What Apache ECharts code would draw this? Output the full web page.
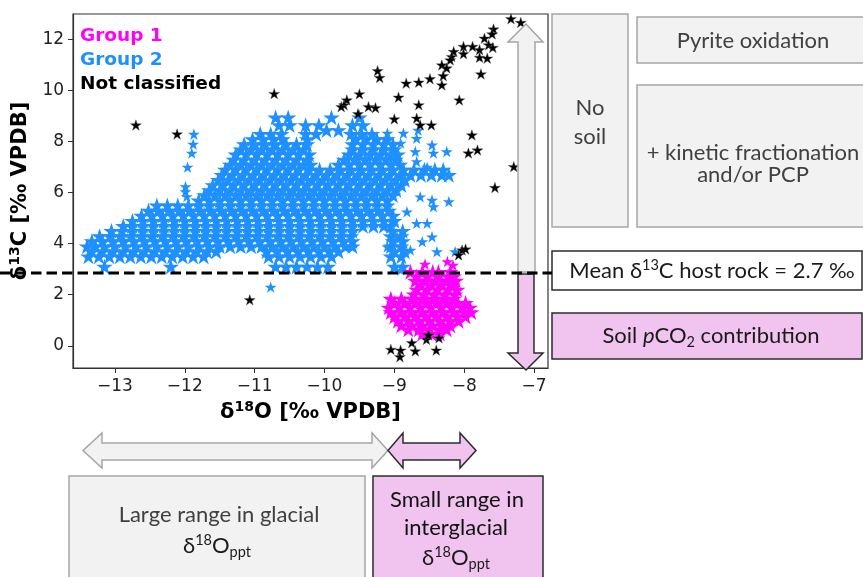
<!DOCTYPE html>
<html><head><meta charset="utf-8">
<script src="https://cdn.jsdelivr.net/npm/echarts@6/dist/echarts.min.js"></script>
<style>html,body{margin:0;padding:0;background:#fff}#c{width:863px;height:577px}</style>
</head><body><div id="c"></div>
<script>
// ---------- data ----------
const xTicks = [-13, -12, -11, -10, -9, -8, -7];
const xTickLabels = ['−13', '−12', '−11', '−10', '−9', '−8', '−7'];
const yTicks = [0, 2, 4, 6, 8, 10, 12];
const yTickLabels = ['0', '2', '4', '6', '8', '10', '12'];
const hostRockMean = 2.85;

// Group 2 (blue), read row by row: [δ13C, [δ18O values]]
const group2Rows = [
  [3.1, [-13.15, -12.2, -10.7, -10.55, -10.4, -10.25, -10.1, -9.95, -9.0, -8.88]],
  [3.5, [-13.38, -13.23, -13.08, -12.93, -12.78, -12.63, -12.48, -12.33, -12.18, -12.03, -11.88, -11.73, -10.8, -10.65, -10.5, -10.35, -10.2, -10.05, -9.9, -9.05, -8.9]],
  [3.7, [-13.33, -13.18, -13.03, -12.88, -12.73, -12.58, -12.43, -12.28, -12.13, -11.98, -11.83, -11.68, -11.55, -10.83, -10.68, -10.53, -10.38, -10.23, -10.08, -9.93, -9.8, -9.0, -8.85]],
  [3.9, [-13.4, -13.28, -13.15, -13.0, -12.85, -12.7, -12.55, -12.4, -12.25, -12.1, -11.95, -11.8, -11.65, -11.5, -11.35, -11.2, -11.05, -10.9, -10.75, -10.6, -10.45, -10.3, -10.15, -10.0, -9.85, -9.7, -9.6, -9.05, -8.9]],
  [4.1, [-13.33, -13.18, -13.03, -12.88, -12.73, -12.58, -12.43, -12.28, -12.13, -11.98, -11.83, -11.68, -11.53, -11.38, -11.23, -11.08, -10.93, -10.78, -10.63, -10.48, -10.33, -10.18, -10.03, -9.88, -9.73, -9.6, -9.02, -8.88]],
  [4.3, [-13.22, -13.07, -12.92, -12.77, -12.62, -12.47, -12.32, -12.17, -12.02, -11.87, -11.72, -11.57, -11.42, -11.27, -11.12, -10.97, -10.82, -10.67, -10.52, -10.37, -10.22, -10.07, -9.92, -9.77, -9.62, -9.05, -8.9]],
  [4.5, [-13.05, -12.9, -12.75, -12.6, -12.45, -12.3, -12.15, -12.0, -11.85, -11.7, -11.55, -11.4, -11.25, -11.1, -10.95, -10.8, -10.65, -10.5, -10.35, -10.2, -10.05, -9.9, -9.75, -9.6, -9.02, -8.88]],
  [4.7, [-12.88, -12.75, -12.6, -12.45, -12.3, -12.15, -12.0, -11.85, -11.7, -11.55, -11.4, -11.25, -11.1, -10.95, -10.8, -10.65, -10.5, -10.35, -10.2, -10.05, -9.9, -9.75, -9.6, -9.45, -9.3, -9.15, -9.05]],
  [4.9, [-12.75, -12.6, -12.45, -12.3, -12.15, -12.0, -11.85, -11.7, -11.55, -11.4, -11.25, -11.1, -10.95, -10.8, -10.65, -10.5, -10.35, -10.2, -10.05, -9.9, -9.75, -9.6, -9.45, -9.3, -9.15, -9.0]],
  [5.1, [-12.62, -12.47, -12.32, -12.17, -12.02, -11.87, -11.72, -11.57, -11.42, -11.27, -11.12, -10.97, -10.82, -10.67, -10.52, -10.37, -10.22, -10.07, -9.92, -9.77, -9.62, -9.47, -9.32, -9.17, -9.02]],
  [5.3, [-12.52, -12.38, -12.23, -12.08, -11.93, -11.78, -11.63, -11.48, -11.33, -11.18, -11.03, -10.88, -10.73, -10.58, -10.43, -10.28, -10.13, -9.98, -9.83, -9.68, -9.53, -9.38, -9.23, -9.08]],
  [5.5, [-12.4, -12.25, -12.1, -11.95, -11.8, -11.65, -11.5, -11.35, -11.2, -11.05, -10.9, -10.75, -10.6, -10.45, -10.3, -10.15, -10.0, -9.85, -9.7, -9.55, -9.4, -9.25, -9.1]],
  [5.7, [-11.8, -11.65, -11.5, -11.35, -11.2, -11.05, -10.9, -10.75, -10.6, -10.45, -10.3, -10.15, -10.0, -9.85, -9.7, -9.55, -9.4, -9.25, -9.1]],
  [5.9, [-11.72, -11.57, -11.42, -11.27, -11.12, -10.97, -10.82, -10.67, -10.52, -10.37, -10.22, -10.07, -9.92, -9.77, -9.62, -9.47, -9.32, -9.17, -9.02]],
  [6.1, [-11.65, -11.5, -11.35, -11.2, -11.05, -10.9, -10.75, -10.6, -10.45, -10.3, -10.15, -10.0, -9.85, -9.7, -9.55, -9.4, -9.25, -9.1, -8.97]],
  [6.3, [-11.6, -11.45, -11.3, -11.15, -11.0, -10.85, -10.7, -10.55, -10.4, -10.25, -10.1, -9.95, -9.8, -9.65, -9.5, -9.35, -9.2, -9.05, -8.9]],
  [6.5, [-11.52, -11.38, -11.23, -11.08, -10.93, -10.78, -10.63, -10.48, -10.33, -10.18, -10.03, -9.88, -9.73, -9.58, -9.43, -9.28, -9.13, -8.98, -8.85]],
  [6.7, [-11.47, -11.32, -11.17, -11.02, -10.87, -10.72, -10.57, -10.42, -10.27, -10.12, -9.97, -9.82, -9.67, -9.52, -9.37, -9.22, -9.07, -8.92, -8.77, -8.62, -8.47, -8.32, -8.22]],
  [6.9, [-11.42, -11.27, -11.12, -10.97, -10.82, -10.67, -10.52, -10.37, -10.22, -10.07, -9.92, -9.77, -9.62, -9.47, -9.32, -9.17, -9.02, -8.87, -8.72, -8.57, -8.42, -8.3]],
  [7.1, [-11.35, -11.2, -11.05, -10.9, -10.75, -10.6, -10.45, -10.3, -10.2, -9.8, -9.65, -9.5, -9.35, -9.2, -9.05, -8.92]],
  [7.3, [-11.3, -11.15, -11.0, -10.85, -10.7, -10.55, -10.4, -10.25, -9.72, -9.57, -9.42, -9.27, -9.12, -8.98]],
  [7.5, [-11.27, -11.12, -10.97, -10.82, -10.67, -10.52, -10.37, -10.22, -9.65, -9.5, -9.35, -9.2, -9.05, -8.95]],
  [7.7, [-11.2, -11.05, -10.9, -10.75, -10.6, -10.45, -10.3, -9.6, -9.45, -9.3, -9.15, -9.0]],
  [7.9, [-11.15, -11.0, -10.85, -10.7, -10.55, -10.4, -10.25, -9.6, -9.45, -9.3, -9.15, -9.02]],
  [8.1, [-11.03, -10.88, -10.73, -10.6, -10.25, -9.55, -9.4, -9.25, -9.1]],
  [8.3, [-10.92, -10.77, -10.62, -10.27, -10.12, -9.62, -9.47, -9.32]],
  [8.45, [-9.97, -9.8]],
  [8.65, [-10.65, -10.5, -10.27, -10.08, -9.6, -9.45]],
  [8.95, [-10.7, -10.52, -9.9, -9.5]]
];
const group2Extra = [
  [-11.87, 8.29], [-11.88, 7.9], [-11.9, 7.55], [-11.96, 7.0], [-11.99, 6.24], [-11.99, 6.04], [-11.97, 5.85],
  [-10.77, 2.3],
  [-9.1, 8.33], [-8.87, 8.33], [-8.68, 8.13], [-8.66, 8.45], [-8.46, 7.87], [-8.44, 7.55], [-8.25, 7.61],
  [-8.7, 7.61], [-8.68, 7.22], [-8.91, 7.94], [-8.53, 7.0],
  [-8.63, 5.84], [-8.46, 5.71], [-8.22, 5.65], [-8.44, 5.45], [-8.82, 5.25], [-8.68, 4.8], [-8.53, 4.8],
  [-8.46, 4.27], [-8.6, 4.08], [-8.39, 3.69], [-8.13, 3.69], [-8.96, 4.27], [-9.1, 3.88], [-8.77, 3.75],
  [-8.91, 2.97]
];

// Group 1 (magenta)
const group1Rows = [
  [2.9, [-8.77, -8.6, -8.45, -8.37, -8.2]],
  [2.72, [-8.68, -8.53, -8.38, -8.23, -8.15]],
  [2.55, [-8.7, -8.55, -8.4, -8.25, -8.12]],
  [2.38, [-8.62, -8.47, -8.32, -8.17]],
  [2.2, [-8.68, -8.53, -8.38, -8.23, -8.1]],
  [2.02, [-8.72, -8.57, -8.42, -8.27, -8.13]],
  [1.85, [-9.05, -8.9, -8.75, -8.6, -8.45, -8.3, -8.15]],
  [1.68, [-9.0, -8.85, -8.7, -8.55, -8.4, -8.25, -8.1, -7.98]],
  [1.5, [-9.08, -8.93, -8.78, -8.63, -8.48, -8.33, -8.18, -8.03, -7.92]],
  [1.32, [-9.05, -8.9, -8.75, -8.6, -8.45, -8.3, -8.15, -8.0, -7.9]],
  [1.15, [-9.0, -8.85, -8.7, -8.55, -8.4, -8.25, -8.1, -7.98]],
  [0.98, [-8.95, -8.8, -8.65, -8.5, -8.35, -8.2, -8.08]],
  [0.8, [-8.9, -8.75, -8.6, -8.45, -8.3, -8.2]],
  [0.64, [-8.8, -8.65, -8.5, -8.35, -8.25]],
  [0.48, [-8.6, -8.47, -8.35]]
];
const group1Extra = [[-8.56, 3.2], [-8.24, 3.3], [-8.16, 3.16]];

// Not classified (black)
const notClassified = [
  [-12.7, 8.65], [-12.11, 8.3], [-10.72, 9.88], [-11.07, 1.8],
  [-7.33, 12.81], [-7.19, 12.67], [-7.58, 12.41], [-7.6, 12.22], [-7.71, 12.05], [-7.65, 11.79], [-7.59, 11.69],
  [-7.78, 11.6], [-7.78, 11.3], [-7.67, 11.27], [-7.88, 11.73], [-8.01, 11.73], [-8.01, 11.44], [-8.15, 11.53],
  [-8.18, 11.33], [-8.2, 11.2], [-8.32, 11.0], [-8.25, 10.88], [-8.3, 10.58], [-8.32, 10.22], [-8.49, 10.46],
  [-8.65, 10.33], [-8.83, 10.29], [-7.76, 10.65], [-8.07, 9.63], [-9.24, 10.78], [-9.21, 10.51], [-9.5, 9.87],
  [-9.68, 9.63], [-9.72, 9.44], [-9.76, 9.37], [-9.37, 9.37], [-9.27, 9.33], [-9.52, 9.09], [-8.94, 9.74],
  [-8.65, 9.44], [-9.0, 8.89], [-8.68, 8.92], [-8.63, 8.65], [-8.47, 8.65], [-7.89, 8.26], [-7.94, 7.55],
  [-7.81, 7.67], [-7.29, 7.02], [-7.56, 6.2],
  [-8.03, 3.75], [-7.98, 3.79], [-8.08, 3.56],
  [-9.05, -0.14], [-8.91, -0.17], [-8.92, -0.43], [-8.75, 0.12], [-8.7, -0.2], [-8.54, 0.25], [-8.51, 0.42],
  [-8.36, 0.31], [-8.4, -0.17]
];

// ---------- chart ----------
const rowsToPoints = rows => rows.flatMap(([y, xs]) => xs.map(x => [x, y]));
const group2Dense = rowsToPoints(group2Rows);
const group1Dense = rowsToPoints(group1Rows);
const group2 = group2Dense.concat(group2Extra);
const group1 = group1Dense.concat(group1Extra);

const STAR = 'path://M0,-10 L2.245,-3.09 L9.51,-3.09 L3.633,1.18 L5.88,8.09 L0,3.82 L-5.88,8.09 L-3.633,1.18 L-9.51,-3.09 L-2.245,-3.09 Z';
const AX = 'DejaVu Sans';
const BOX = 'Lato, "Open Sans", sans-serif';

const chart = echarts.init(document.getElementById('c'), null, {renderer: 'canvas'});

const titleRich = {
  a: {fontFamily: AX, fontWeight: 'bold', fontSize: 21, lineHeight: 26, color: '#000'},
  s: {fontFamily: AX, fontWeight: 'bold', fontSize: 14, lineHeight: 14, verticalAlign: 'top', color: '#000'}
};

function lbl(ticks, labels) {
  return v => { const i = ticks.indexOf(Math.round(v)); return i >= 0 ? labels[i] : ''; };
}
const sizeFor = n => (val, p) => (p.dataIndex < n ? 16.5 : 12);

chart.setOption({
  animation: false,
  backgroundColor: '#fff',
  grid: {left: 72, top: 14, right: 315, bottom: 209, show: true, borderColor: '#333', borderWidth: 1.2, backgroundColor: 'transparent'},
  xAxis: {
    type: 'value', min: -13.6, max: -6.8,
    name: '{a|δ}{s|18}{a|O [‰ VPDB]}', nameLocation: 'middle', nameGap: 28,
    nameTextStyle: {rich: titleRich},
    axisLine: {show: true, onZero: false, lineStyle: {color: '#333', width: 1.2}},
    axisTick: {show: true, inside: false, length: 5, customValues: xTicks, lineStyle: {color: '#333', width: 1}},
    axisLabel: {customValues: xTicks, formatter: lbl(xTicks, xTickLabels), fontFamily: AX, fontSize: 17, color: '#222', margin: 10},
    splitLine: {show: false}
  },
  yAxis: {
    type: 'value', min: -0.87, max: 13.0,
    name: '{a|δ}{s|13}{a|C [‰ VPDB]}', nameLocation: 'middle', nameGap: 36,
    nameTextStyle: {rich: titleRich},
    axisLine: {show: true, onZero: false, lineStyle: {color: '#333', width: 1.2}},
    axisTick: {show: true, inside: false, length: 5, customValues: yTicks, lineStyle: {color: '#333', width: 1}},
    axisLabel: {customValues: yTicks, formatter: lbl(yTicks, yTickLabels), fontFamily: AX, fontSize: 17, color: '#222', margin: 9},
    splitLine: {show: false}
  },
  series: [
    {name: 'Group 2', type: 'scatter', data: group2, symbol: STAR, symbolSize: sizeFor(group2Dense.length), symbolKeepAspect: true,
     itemStyle: {color: '#1e90ff', opacity: 1}, z: 2, silent: true},
    {name: 'Group 1', type: 'scatter', data: group1, symbol: STAR, symbolSize: sizeFor(group1Dense.length), symbolKeepAspect: true,
     itemStyle: {color: '#ff00ff', opacity: 1}, z: 3, silent: true},
    {name: 'Not classified', type: 'scatter', data: notClassified, symbol: STAR, symbolSize: 11, symbolKeepAspect: true,
     itemStyle: {color: '#000', borderColor: '#555', borderWidth: 0.4, opacity: 1}, z: 4, silent: true}
  ]
});

// ---------- annotation graphics ----------
const GRAYF = '#f2f2f2', GRAYS = '#a6a6a6', PINKF = '#f1c4f0', DARK = '#2b2b2b';
function rect(x, y, w, h, fill, stroke) {
  return {type: 'rect', shape: {x, y, width: w, height: h}, style: {fill, stroke, lineWidth: 1.5}, z: 10, silent: true};
}
function poly(points, fill, stroke) {
  return {type: 'polygon', shape: {points}, style: {fill, stroke, lineWidth: 1.5}, z: 10, silent: true};
}
function text(x, y, str, opt) {
  opt = opt || {};
  return {type: 'text', x, y, z: 12, silent: true, style: Object.assign({
    text: str, fill: opt.fill || '#1a1a1a',
    font: opt.font || ('22px ' + BOX),
    textAlign: opt.align || 'center', textVerticalAlign: 'middle',
    align: opt.align || 'center', verticalAlign: 'middle'
  }, opt.rich ? {rich: opt.rich} : {})};
}
const boxRich = (col) => ({
  m: {fontFamily: BOX, fontSize: 22, lineHeight: 27, color: col},
  s: {fontFamily: BOX, fontSize: 14.5, lineHeight: 14, verticalAlign: 'top', color: col},
  b: {fontFamily: BOX, fontSize: 14.5, lineHeight: 14, verticalAlign: 'bottom', color: col},
  i: {fontFamily: BOX, fontSize: 22, lineHeight: 27, fontStyle: 'italic', color: col}
});

const yLine = chart.convertToPixel({yAxisIndex: 0}, hostRockMean);
const G = [];
// right-hand column boxes
G.push(rect(552, 14, 76, 213, GRAYF, GRAYS));
G.push(rect(637, 17, 245, 46, GRAYF, GRAYS));
G.push(rect(637, 85, 245, 142, GRAYF, GRAYS));
G.push(rect(552, 251, 310, 39, '#fff', DARK));
G.push(rect(552, 313, 310, 46, PINKF, DARK));
// vertical arrows
G.push(poly([[526, 24], [543, 42], [535, 42], [535, yLine - 1], [518, yLine - 1], [518, 42], [508, 42]], GRAYF, GRAYS));
G.push(poly([[518, yLine + 1], [534, yLine + 1], [534, 353], [543, 353], [526, 370], [508, 353], [518, 353]], PINKF, DARK));
// bottom boxes and arrows
G.push(rect(69, 476, 296, 130, GRAYF, GRAYS));
G.push(rect(373, 476, 170, 130, PINKF, DARK));
G.push(poly([[83, 450.5], [102, 433], [102, 443], [372, 443], [372, 433], [388, 450.5], [372, 468], [372, 460], [102, 460], [102, 468]], GRAYF, GRAYS));
G.push(poly([[388, 450.5], [403, 433], [403, 443], [460, 443], [460, 433], [476, 450.5], [460, 468], [460, 460], [403, 460], [403, 468]], PINKF, DARK));
// dashed host-rock line
G.push({type: 'line', z: 11, silent: true, shape: {x1: 0, y1: yLine, x2: 552, y2: yLine},
  style: {stroke: '#000', lineWidth: 3, lineDash: [10.5, 5]}});
// legend texts
const LEG = 'bold 18.5px "DejaVu Sans"';
G.push(text(80, 36, 'Group 1', {align: 'left', font: LEG, fill: '#ff00ff'}));
G.push(text(80, 60, 'Group 2', {align: 'left', font: LEG, fill: '#1e90ff'}));
G.push(text(80, 84, 'Not classified', {align: 'left', font: LEG, fill: '#000'}));
// box texts
const GT = '#404040';
G.push(text(590, 108, 'No', {fill: GT}));
G.push(text(590, 137, 'soil', {fill: GT}));
G.push(text(753, 41, 'Pyrite oxidation', {fill: GT}));
G.push(text(753, 153, '+ kinetic fractionation', {fill: GT}));
G.push(text(753, 175, 'and/or PCP', {fill: GT}));
G.push(text(712, 271, '{m|Mean δ}{s|13}{m|C host rock = 2.7 ‰}', {rich: boxRich('#111')}));
G.push(text(711, 336, '{m|Soil }{i|p}{m|CO}{b|2}{m| contribution}', {rich: boxRich('#111')}));
G.push(text(219, 515, 'Large range in glacial', {fill: GT}));
G.push(text(217, 546, '{m|δ}{s|18}{m|O}{b|ppt}', {rich: boxRich(GT)}));
G.push(text(457, 500, 'Small range in', {fill: '#111'}));
G.push(text(456, 528, 'interglacial', {fill: '#111'}));
G.push(text(456, 558, '{m|δ}{s|18}{m|O}{b|ppt}', {rich: boxRich('#111')}));

chart.setOption({graphic: {elements: G}});
</script>
</body></html>
